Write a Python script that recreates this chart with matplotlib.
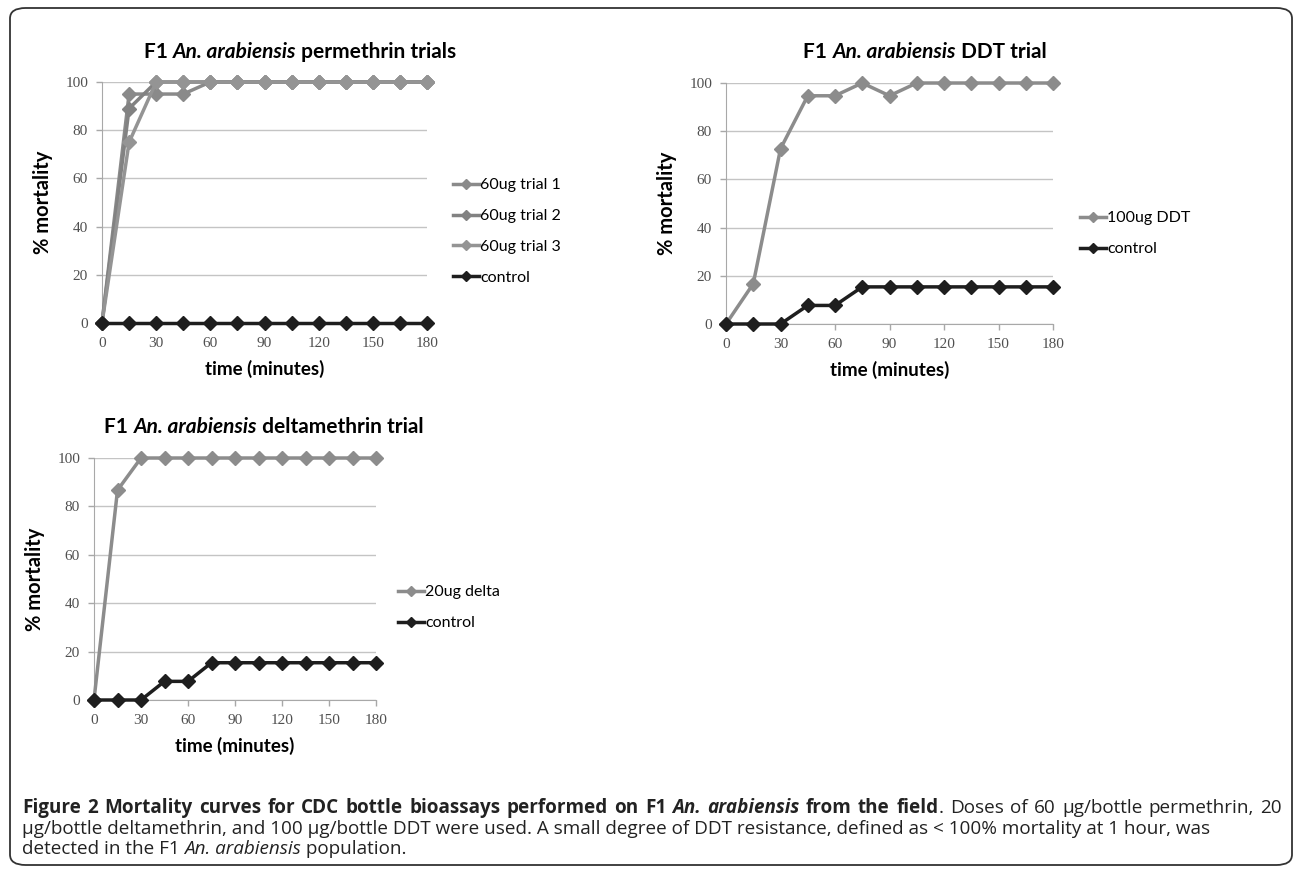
import re
import matplotlib.pyplot as plt
from matplotlib.patches import FancyBboxPatch

# data
time = [0, 15, 30, 45, 60, 75, 90, 105, 120, 135, 150, 165, 180]

perm_trial1 = [0, 95, 95, 95, 100, 100, 100, 100, 100, 100, 100, 100, 100]
perm_trial2 = [0, 89, 100, 100, 100, 100, 100, 100, 100, 100, 100, 100, 100]
perm_trial3 = [0, 75, 100, 100, 100, 100, 100, 100, 100, 100, 100, 100, 100]
perm_control = [0, 0, 0, 0, 0, 0, 0, 0, 0, 0, 0, 0, 0]

ddt_100 = [0, 16.7, 72.7, 94.7, 94.7, 100, 94.7, 100, 100, 100, 100, 100, 100]
ddt_control = [0, 0, 0, 7.7, 7.7, 15.4, 15.4, 15.4, 15.4, 15.4, 15.4, 15.4, 15.4]

delta_20 = [0, 86.7, 100, 100, 100, 100, 100, 100, 100, 100, 100, 100, 100]
delta_control = [0, 0, 0, 7.7, 7.7, 15.4, 15.4, 15.4, 15.4, 15.4, 15.4, 15.4, 15.4]

x_ticks = [0, 30, 60, 90, 120, 150, 180]
y_ticks = [0, 20, 40, 60, 80, 100]

W, H = 1295, 871
GREY = '#8c8c8c'
BLACK = '#1e1e1e'
SANS = ['Lato', 'DejaVu Sans']
CAP = ['Open Sans', 'DejaVu Sans']

fig = plt.figure(figsize=(W / 100, H / 100), dpi=100)
renderer = fig.canvas.get_renderer()


def px(x, y):
    return x / W, 1 - y / H


def part_width(s, size, weight, style, family):
    # width in pixels, robust to leading/trailing spaces
    t1 = fig.text(0, 0, '|' + s + '|', fontsize=size, fontweight=weight,
                  fontstyle=style, family=family)
    t2 = fig.text(0, 0, '||', fontsize=size, fontweight=weight,
                  fontstyle=style, family=family)
    w = t1.get_window_extent(renderer).width - t2.get_window_extent(renderer).width
    t1.remove()
    t2.remove()
    return w


def rich(x, y, parts, size, family, color='black', ha='left', justify_to=None):
    if justify_to is None:
        tokens = parts
    else:
        tokens = []
        for s, wt, st in parts:
            tokens += [(tok, wt, st) for tok in re.split(r'( )', s) if tok]
    widths = [part_width(s, size, wt, st, family) for s, wt, st in tokens]
    total = sum(widths)
    extra = 0
    if justify_to is not None:
        n_sp = sum(1 for s, _, _ in tokens if s == ' ')
        extra = (justify_to - x - total) / max(n_sp, 1)
    x0 = x - total / 2 if ha == 'center' else x
    for (s, wt, st), w in zip(tokens, widths):
        if s == ' ':
            x0 += w + extra
            continue
        fig.text(*px(x0, y), s, fontsize=size, fontweight=wt, fontstyle=st,
                 family=family, color=color, va='center', ha='left')
        x0 += w


def style_axes(ax):
    ax.set_xlim(0, 180)
    ax.set_ylim(0, 100)
    ax.set_xticks(x_ticks)
    ax.set_yticks(y_ticks)
    ax.grid(axis='y', color='#c4c4c4', lw=1)
    ax.set_axisbelow(True)
    for s in ['top', 'right']:
        ax.spines[s].set_visible(False)
    for s in ['left', 'bottom']:
        ax.spines[s].set_color('#a8a8a8')
    ax.tick_params(colors='#a8a8a8', labelcolor='#505050', length=4, width=1, pad=6)
    for lab in ax.get_xticklabels() + ax.get_yticklabels():
        lab.set_family('Liberation Serif')
        lab.set_fontsize(11)
    ax.set_xlabel('time (minutes)', fontsize=13.5, fontweight='bold', family=SANS, labelpad=7)
    ax.set_ylabel('% mortality', fontsize=14.5, fontweight='bold', family=SANS, labelpad=9)


def plot_series(ax, y, label, color, z=3):
    ax.plot(time, y, color=color, lw=2.5, marker='D', ms=7, label=label,
            clip_on=False, zorder=z)


def add_legend(ax, x, y, spacing):
    ax.legend(loc='upper left', bbox_to_anchor=px(x, y), bbox_transform=fig.transFigure,
              frameon=False, prop={'family': SANS, 'size': 11.5}, handlelength=1.6,
              handletextpad=0.1, borderpad=0, borderaxespad=0, labelspacing=spacing,
              markerscale=0.75)


# permethrin
ax1 = fig.add_axes([102 / W, 1 - 323 / H, 325 / W, 241 / H])
plot_series(ax1, perm_trial1, '60ug trial 1', '#8a8a8a')
plot_series(ax1, perm_trial2, '60ug trial 2', '#828282')
plot_series(ax1, perm_trial3, '60ug trial 3', '#949494')
plot_series(ax1, perm_control, 'control', BLACK, z=4)
style_axes(ax1)
add_legend(ax1, 453, 178, 1.05)

# DDT
ax2 = fig.add_axes([726 / W, 1 - 324 / H, 327 / W, 241 / H])
plot_series(ax2, ddt_100, '100ug DDT', GREY)
plot_series(ax2, ddt_control, 'control', BLACK, z=4)
style_axes(ax2)
add_legend(ax2, 1080, 211, 1.05)

# deltamethrin
ax3 = fig.add_axes([94 / W, 1 - 700 / H, 282 / W, 242 / H])
plot_series(ax3, delta_20, '20ug delta', GREY)
plot_series(ax3, delta_control, 'control', BLACK, z=4)
style_axes(ax3)
add_legend(ax3, 398, 585, 1.05)

# chart titles with italic species name
rich(300, 52, [('F1 ', 'bold', 'normal'), ('An. arabiensis', 'bold', 'italic'),
               (' permethrin trials', 'bold', 'normal')], 15, SANS, ha='center')
rich(925, 52, [('F1 ', 'bold', 'normal'), ('An. arabiensis', 'bold', 'italic'),
               (' DDT trial', 'bold', 'normal')], 15, SANS, ha='center')
rich(264, 427, [('F1 ', 'bold', 'normal'), ('An. arabiensis', 'bold', 'italic'),
                (' deltamethrin trial', 'bold', 'normal')], 15, SANS, ha='center')

# caption
cap_size = 13.6
rich(22, 808, [('Figure 2 Mortality curves for CDC bottle bioassays performed on F1 ', 'bold', 'normal'),
               ('An. arabiensis', 'bold', 'italic'),
               (' from the field', 'bold', 'normal'),
               ('. Doses of 60 \u03bcg/bottle permethrin, 20', 'normal', 'normal')],
     cap_size, CAP, color='#222222', justify_to=1282)
rich(22, 829, [('\u03bcg/bottle deltamethrin, and 100 \u03bcg/bottle DDT were used. A small degree of DDT '
                'resistance, defined as < 100% mortality at 1 hour, was', 'normal', 'normal')],
     cap_size, CAP, color='#222222')
rich(22, 849, [('detected in the F1 ', 'normal', 'normal'), ('An. arabiensis', 'normal', 'italic'),
               (' population.', 'normal', 'normal')], cap_size, CAP, color='#222222')

# outer rounded frame
frame = FancyBboxPatch(px(10, 865), 1282 / W, 857 / H, boxstyle='round,pad=0,rounding_size=0.012',
                       transform=fig.transFigure, fill=False, ec='#333333', lw=1.3)
fig.patches.append(frame)

fig.savefig('out.png', dpi=100)
